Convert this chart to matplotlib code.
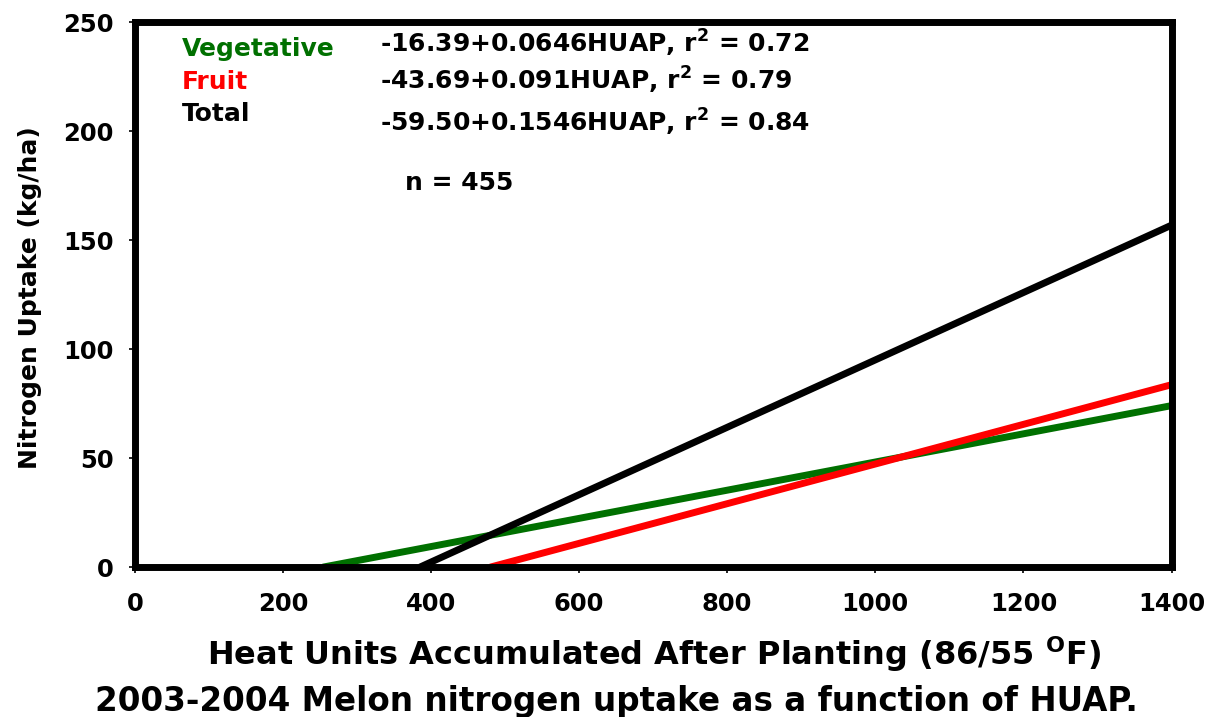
import matplotlib
matplotlib.use("Agg")
import matplotlib.pyplot as plt

# Line endpoints (HUAP, N uptake kg/ha)
veg_x = [254, 1400]
veg_y = [0, 74.1]
fruit_x = [480, 1400]
fruit_y = [0, 83.7]
total_x = [385, 1400]
total_y = [0, 156.9]

labels = ["Vegetative", "Fruit", "Total"]
equations = ["-16.39+0.0646HUAP, r$^{\\mathbf{2}}$ = 0.72",
             "-43.69+0.091HUAP, r$^{\\mathbf{2}}$ = 0.79",
             "-59.50+0.1546HUAP, r$^{\\mathbf{2}}$ = 0.84"]
colors = ["#007000", "#ff0000", "#000000"]
xticks = [0, 200, 400, 600, 800, 1000, 1200, 1400]
yticks = [0, 50, 100, 150, 200, 250]

plt.rcParams['font.family'] = ['DejaVu Sans']
plt.rcParams['font.weight'] = 'bold'
plt.rcParams['mathtext.fontset'] = 'dejavusans'
plt.rcParams['mathtext.default'] = 'bf'

fig = plt.figure(figsize=(12.14, 7.17), dpi=100)
ax = fig.add_axes([0.111, 0.209, 0.854, 0.760])

ax.plot(veg_x, veg_y, color=colors[0], lw=5, solid_capstyle='butt')
ax.plot(fruit_x, fruit_y, color=colors[1], lw=5, solid_capstyle='butt')
ax.plot(total_x, total_y, color=colors[2], lw=5, solid_capstyle='butt')

ax.set_xlim(0, 1400)
ax.set_ylim(0, 250)
ax.set_xticks(xticks)
ax.set_yticks(yticks)
for s in ax.spines.values():
    s.set_linewidth(5)
ax.tick_params(direction='out', length=4, width=1.2)
ax.tick_params(axis='x', pad=14)
ax.tick_params(axis='y', pad=11)
for t in ax.get_yticklabels() + ax.get_xticklabels():
    t.set_fontsize(17.5)
    t.set_fontweight('bold')

ax.set_ylabel("Nitrogen Uptake (kg/ha)", fontsize=18, fontweight='bold')
ax.yaxis.set_label_coords(-0.089, 0.495)
ax.set_xlabel("Heat Units Accumulated After Planting (86/55 $^{\\mathbf{O}}$F)",
              fontsize=23, fontweight='bold')
ax.xaxis.set_label_coords(0.501, -0.1798)
ax.xaxis.label.set_va('baseline')

ys = [0.9376, 0.878, 0.8183]
eys = [0.945, 0.877, 0.800]
for i in range(3):
    ax.text(0.0453, ys[i], labels[i], transform=ax.transAxes, color=colors[i],
            fontsize=18, fontweight='bold', va='baseline', ha='left')
    ax.text(0.2363, eys[i], equations[i], transform=ax.transAxes, color='black',
            fontsize=18, fontweight='bold', va='baseline', ha='left')
ax.text(0.2604, 0.6917, "n = 455", transform=ax.transAxes, fontsize=18,
        fontweight='bold', va='baseline', ha='left')

fig.text(0.508, 0.0084, "2003-2004 Melon nitrogen uptake as a function of HUAP.",
         ha='center', va='baseline', fontsize=23.5, fontweight='bold')

fig.savefig("out.png", dpi=100)
